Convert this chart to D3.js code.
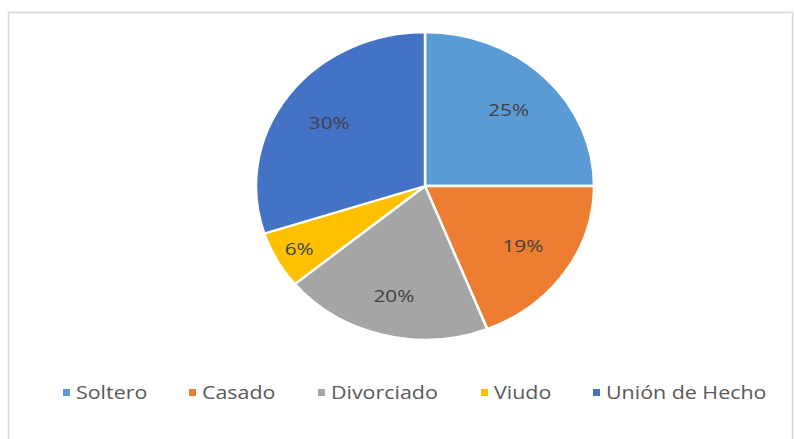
<!DOCTYPE html>
<html>
<head>
<meta charset="utf-8">
<script src="https://cdn.jsdelivr.net/npm/d3@7/dist/d3.min.js"></script>
<style>
  html, body { margin: 0; padding: 0; background: #fff; }
  svg { display: block; }
</style>
</head>
<body>
<svg id="chart" width="794" height="439"></svg>
<script>
// Estado civil: share of each category (percent)
const categories = ["Soltero", "Casado", "Divorciado", "Viudo", "Unión de Hecho"];
const values = [25, 19, 20, 6, 30];
const colors = ["#5B9BD5", "#ED7D31", "#A5A5A5", "#FFC000", "#4472C4"];

const svg = d3.select("#chart");
const W = 794, H = 439;
const FONT = "Open Sans, Calibri, sans-serif";

// chart frame
svg.append("rect").attr("x", 0).attr("y", 0).attr("width", W).attr("height", H).attr("fill", "#fff");
svg.append("path")
  .attr("d", `M8.5,${H} V12.5 H792.5 V${H}`)
  .attr("fill", "none").attr("stroke", "#d6d6d6").attr("stroke-width", 1.5);

const cx = 425, cy = 186, r = 169, sy = 0.91;

const pie = d3.pie().sort(null).value(d => d.v);
const arcs = pie(categories.map((c, i) => ({ c, v: values[i], col: colors[i] })));
const arc = d3.arc().innerRadius(0).outerRadius(r);
// small slices get their label pushed further out
const labelR = d => (d.data.v < 10 ? 0.85 : d.data.v >= 20 && d.data.v < 21 ? 0.74 : 0.70) * r;

const g = svg.append("g").attr("transform", `translate(${cx},${cy}) scale(1,${sy})`);
g.selectAll("path.slice").data(arcs).enter().append("path")
  .attr("class", "slice")
  .attr("d", arc)
  .attr("fill", d => d.data.col)
  .attr("stroke", "#fff").attr("stroke-width", 2.5);

const total = d3.sum(values);
svg.append("g").selectAll("text").data(arcs).enter().append("text")
  .attr("transform", d => {
    const c = d3.arc().innerRadius(labelR(d)).outerRadius(labelR(d)).centroid(d);
    return `translate(${cx + c[0]},${cy + c[1] * sy}) scale(1.22,1)`;
  })
  .attr("dy", "0.35em")
  .attr("text-anchor", "middle")
  .attr("font-family", FONT)
  .attr("font-size", 17)
  .attr("fill", "#404040")
  .text(d => Math.round(d.data.v / total * 100) + "%");

// legend
const legendX = [63, 189, 318, 481, 593];
const lg = svg.append("g").attr("font-family", FONT).attr("font-size", 18).attr("fill", "#595959");
categories.forEach((c, i) => {
  lg.append("rect").attr("x", legendX[i]).attr("y", 389).attr("width", 7).attr("height", 7).attr("fill", colors[i]);
  lg.append("text")
    .attr("transform", `translate(${legendX[i] + 13},393) scale(1.19,1)`)
    .attr("dy", "0.35em").text(c);
});
</script>
</body>
</html>
